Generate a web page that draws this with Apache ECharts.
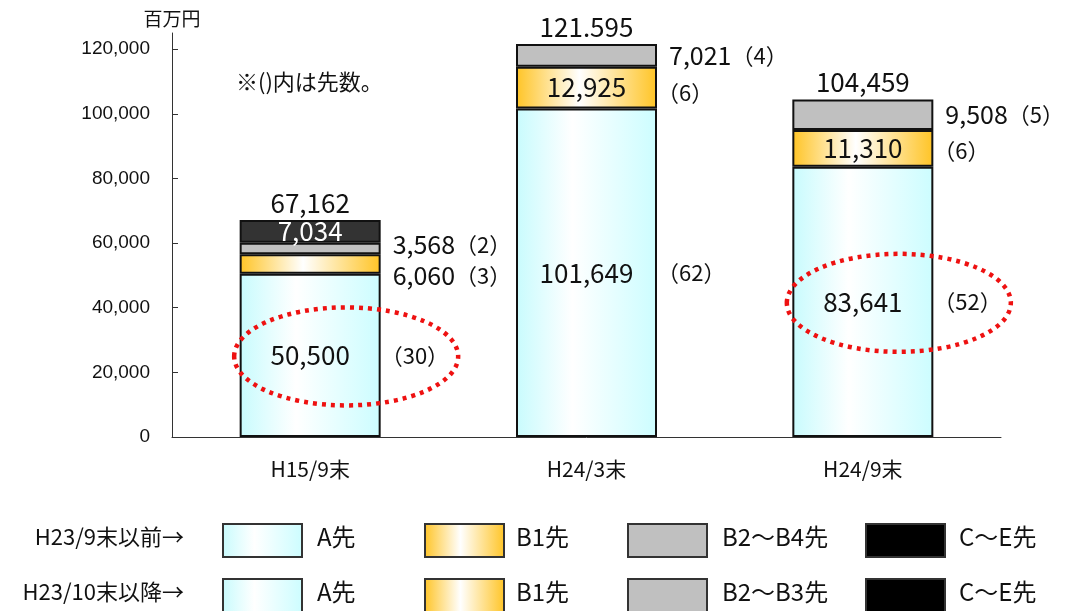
<!DOCTYPE html>
<html>
<head>
<meta charset="utf-8">
<script src="https://cdn.jsdelivr.net/npm/echarts@6/dist/echarts.min.js"></script>
<style>
  html, body { margin: 0; padding: 0; background: #fff; }
  #main { width: 1079px; height: 611px; }
</style>
</head>
<body>
<div id="main"></div>
<script>
// データ（百万円）
const categories = ['H15/9末', 'H24/3末', 'H24/9末'];
const aVals = [50500, 101649, 83641];
const b1Vals = [6060, 12925, 11310];
const b2Vals = [3568, 7021, 9508];
const ceVals = [7034, null, null];
// 先数
const aCounts = [30, 62, 52];
const b1Counts = [3, 6, 6];
const b2Counts = [2, 4, 5];
const totalLabels = ['67,162', '121.595', '104,459'];
const yTicks = [0, 20000, 40000, 60000, 80000, 100000, 120000];
// 凡例
const legendRows = ['H23/9末以前→', 'H23/10末以降→'];
const legendNames = [
  ['A先', 'B1先', 'B2～B4先', 'C～E先'],
  ['A先', 'B1先', 'B2～B3先', 'C～E先']
];
// 赤い点線の楕円を付ける棒
const circled = [0, 2];

const FONT = "'Noto Sans CJK JP', sans-serif";
const fmt = v => v.toLocaleString('en-US');

const gradA = new echarts.graphic.LinearGradient(0, 0, 1, 0, [
  { offset: 0, color: '#c8fbfd' },
  { offset: 0.4, color: '#ffffff' },
  { offset: 1, color: '#ccfdff' }
]);
const gradB1 = new echarts.graphic.LinearGradient(0, 0, 1, 0, [
  { offset: 0, color: '#ffc425' },
  { offset: 0.45, color: '#ffffff' },
  { offset: 1, color: '#ffc425' }
]);
const colors = [gradA, gradB1, '#c0c0c0', '#333333'];
const legendColors = [gradA, gradB1, '#c0c0c0', '#000000'];

const BAR_W = 141;

// 棒の中のラベル：先数が無いか 10,000 以上なら中に表示
function insideSeries(name, vals, counts, color, textColor) {
  return {
    name: name,
    type: 'bar',
    stack: 'main',
    barWidth: BAR_W,
    barGap: '-100%',
    data: vals,
    itemStyle: { color: color, borderColor: '#111', borderWidth: 2 },
    label: {
      show: true,
      position: 'inside',
      fontFamily: FONT,
      fontSize: 26,
      color: textColor || '#111',
      formatter: p => {
        const c = counts ? counts[p.dataIndex] : null;
        return (c == null || p.value >= 10000) ? fmt(p.value) : '';
      }
    }
  };
}

// 棒の右側のラベル（透明な重ね棒）
function sideSeries(name, vals, counts, offsets) {
  return {
    name: name,
    type: 'bar',
    stack: 'side',
    barWidth: BAR_W,
    barGap: '-100%',
    silent: true,
    z: 3,
    data: vals.map((v, i) => {
      const off = offsets ? offsets[i] : [0, 0];
      return {
        value: v,
        label: { offset: [off[0] + (v < 10000 ? 12 : 0), off[1]] }
      };
    }),
    itemStyle: { color: 'rgba(0,0,0,0)', borderWidth: 0 },
    label: {
      show: true,
      position: 'right',
      distance: 0,
      fontFamily: FONT,
      color: '#111',
      formatter: p => {
        const i = p.dataIndex;
        const v = vals[i];
        return (v >= 10000 ? '' : '{n|' + fmt(v) + '}') + '{c|（' + counts[i] + '）}';
      },
      rich: {
        n: { fontFamily: FONT, fontSize: 25, color: '#111' },
        c: { fontFamily: FONT, fontSize: 22, color: '#111' }
      }
    }
  };
}

const chart = echarts.init(document.getElementById('main'));

const option = {
  animation: false,
  textStyle: { fontFamily: FONT },
  grid: { left: 172, right: 78, top: 33, bottom: 174 },
  xAxis: {
    type: 'category',
    data: categories,
    axisLine: { lineStyle: { color: '#333', width: 1 } },
    axisTick: { inside: true, length: 8, lineStyle: { color: '#333' } },
    axisLabel: { color: '#111', fontSize: 21, margin: 22, fontFamily: FONT }
  },
  yAxis: {
    type: 'value',
    min: 0,
    max: 125000,
    interval: 20000,
    name: '百万円',
    nameLocation: 'end',
    nameGap: 5,
    nameTextStyle: { color: '#111', fontSize: 19, fontFamily: FONT },
    axisLine: { show: true, lineStyle: { color: '#333', width: 1 } },
    axisTick: { show: true, inside: true, length: 6, customValues: yTicks, lineStyle: { color: '#333' } },
    axisLabel: {
      color: '#111', fontSize: 19, margin: 22, fontFamily: "'Liberation Sans', Arial, sans-serif",
      customValues: yTicks,
      formatter: v => fmt(v)
    },
    splitLine: { show: false }
  },
  series: [
    insideSeries('A先', aVals, aCounts, colors[0]),
    insideSeries('B1先', b1Vals, b1Counts, colors[1]),
    insideSeries('B2先', b2Vals, b2Counts, colors[2]),
    insideSeries('C～E先', ceVals, null, colors[3], '#ffffff'),
    {
      name: '合計',
      type: 'bar',
      stack: 'main',
      barWidth: BAR_W,
      barGap: '-100%',
      silent: true,
      data: categories.map(() => 0),
      itemStyle: { color: 'rgba(0,0,0,0)', borderWidth: 0 },
      label: {
        show: true,
        position: 'top',
        distance: 4,
        fontFamily: FONT,
        fontSize: 26,
        color: '#111',
        formatter: p => totalLabels[p.dataIndex]
      }
    },
    sideSeries('A側', aVals, aCounts),
    sideSeries('B1側', b1Vals, b1Counts, [[0, 12], [0, 5], [0, 2]]),
    sideSeries('B2側', b2Vals, b2Counts, [[0, -4], [0, 0], [0, 0]])
  ],
  graphic: []
};

chart.setOption(option);

// 注記と凡例
const graphics = [{
  type: 'text',
  left: 236,
  top: 71,
  style: { text: '※()内は先数。', font: '22px ' + FONT, fill: '#111' }
}];

const rowY = [524, 579];
const swatchX = [223, 425, 628, 866];
const labelX = [317, 516, 722, 959];
legendRows.forEach((row, r) => {
  graphics.push({
    type: 'text',
    right: 1079 - 184,
    top: rowY[r] + 2,
    style: { text: row, font: '22px ' + FONT, fill: '#111', textAlign: 'right' }
  });
  legendNames[r].forEach((nm, k) => {
    graphics.push({
      type: 'rect',
      shape: { x: swatchX[k], y: rowY[r], width: 79, height: 33 },
      style: { fill: legendColors[k], stroke: '#333', lineWidth: 2 }
    });
    graphics.push({
      type: 'text',
      left: labelX[k],
      top: rowY[r] + 1,
      style: { text: nm, font: '24px ' + FONT, fill: '#111' }
    });
  });
});

// 楕円：A先の中央の値から位置を求める
circled.forEach(i => {
  const pt = chart.convertToPixel({ xAxisIndex: 0, yAxisIndex: 0 }, [i, aVals[i] / 2]);
  graphics.push({
    type: 'ellipse',
    z: 10,
    shape: { cx: pt[0] + 36, cy: pt[1] + 1, rx: 112, ry: 49 },
    style: { fill: null, stroke: '#ee1111', lineWidth: 4.5, lineDash: [4, 5] }
  });
});

chart.setOption({ graphic: graphics });
</script>
</body>
</html>
